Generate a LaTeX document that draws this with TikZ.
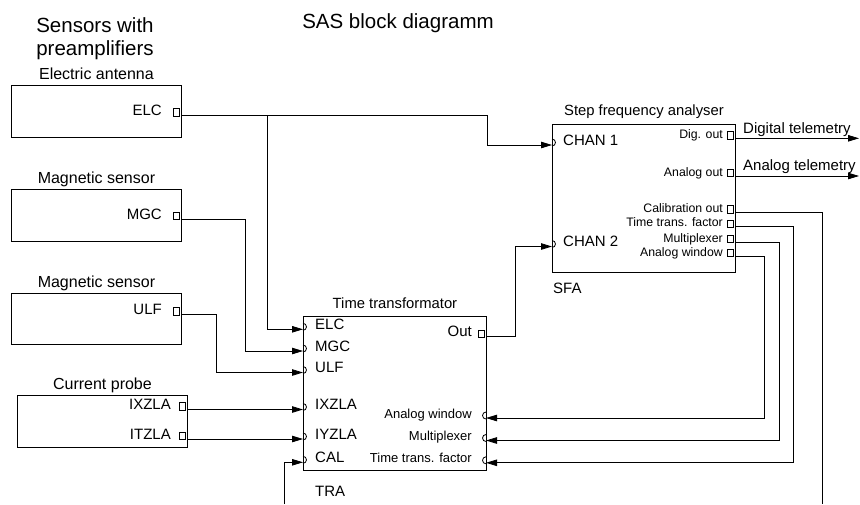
\documentclass[tikz,border=0pt]{standalone}
\usepackage{fontspec}
\setmainfont{Liberation Sans}
\usetikzlibrary{arrows.meta,positioning}

\begin{document}
\begin{tikzpicture}[x=1pt,y=-1pt,
    blk/.style={draw,line width=0.9pt,anchor=north west,inner sep=0pt},
    head/.style={font=\fontsize{20.5}{23.5}\selectfont,align=center,inner sep=0pt},
    title/.style={font=\fontsize{16}{19}\selectfont,inner sep=0pt,text depth=0pt},
    ttl/.style={font=\fontsize{14.8}{17}\selectfont,inner sep=0pt,text depth=0pt},
    lbl/.style={font=\fontsize{15}{18}\selectfont,inner sep=0pt},
    trs/.style={font=\fontsize{13}{15}\selectfont,inner sep=0pt},
    small/.style={font=\fontsize{12.3}{14}\selectfont,inner sep=0pt},
    oport/.style={draw,line width=0.7pt,minimum width=6.5pt,minimum height=7.5pt,
                  inner sep=0pt,anchor=south east,xshift=-1pt,yshift=-1pt},
    wire/.style={line width=0.8pt},
    feed/.style={wire,-{Triangle[length=11pt,width=6.5pt]}}]
  \useasboundingbox (0,0) rectangle (860,504);

  % headings
  \node[head,anchor=north] (hd-sens) at (95,17) {Sensors with\\preamplifiers};
  \node[head,anchor=base] (hd-sas) at (398,28) {SAS block diagramm};

  % sensor boxes
  \node[blk,minimum width=170pt,minimum height=52pt] (ant) at (11,85) {};
  \node[blk,minimum width=170pt,minimum height=52pt] (mgs) at (11,189) {};
  \node[blk,minimum width=170pt,minimum height=51pt] (ulfs) at (11,293) {};
  \node[blk,minimum width=170pt,minimum height=52pt] (cpr) at (17,395) {};
  \node[title,above=5.5pt of ant] (ant-t) {Electric antenna};
  \node[title,above=5.5pt of mgs] (mgs-t) {Magnetic sensor};
  \node[title,above=5.5pt of ulfs] (ulfs-t) {Magnetic sensor};
  \node[title,above=5pt of cpr] (cpr-t) {Current probe};

  % processing boxes
  \node[blk,minimum width=183pt,minimum height=154pt] (tra) at (303,316) {};
  \node[blk,minimum width=183pt,minimum height=148pt] (sfa) at (552,124) {};
  \node[ttl,above=7.5pt of tra] (tra-t) {Time transformator};
  \node[ttl,above=8pt of sfa] (sfa-t) {Step frequency analyser};
  \node[lbl,anchor=north west] (tra-n) at ([xshift=12pt,yshift=-15pt]tra.south west) {TRA};
  \node[lbl,anchor=north west] (sfa-n) at ([xshift=1pt,yshift=-10pt]sfa.south west) {SFA};

  % ports
  \coordinate (ant-elc) at (181,115.5);
  \coordinate (mgs-mgc) at (181,219);
  \coordinate (ulfs-ulf) at (181,314.3);
  \coordinate (cpr-ixz) at (187,409.5);
  \coordinate (cpr-itz) at (187,439);
  \coordinate (tra-elc) at (303,329.3);
  \coordinate (tra-mgc) at (303,351);
  \coordinate (tra-ulf) at (303,372.5);
  \coordinate (tra-ixz) at (303,409.5);
  \coordinate (tra-iyz) at (303,439);
  \coordinate (tra-cal) at (303,462.3);
  \coordinate (tra-out) at (486,336.7);
  \coordinate (tra-aw) at (486,418);
  \coordinate (tra-mux) at (486,440.5);
  \coordinate (tra-ttf) at (486,462.8);
  \coordinate (sfa-c1) at (552,145);
  \coordinate (sfa-c2) at (552,246.5);
  \coordinate (sfa-dig) at (735,138.3);
  \coordinate (sfa-ana) at (735,176);
  \coordinate (sfa-cal) at (735,212.3);
  \coordinate (sfa-ttf) at (735,226.7);
  \coordinate (sfa-mux) at (735,242);
  \coordinate (sfa-aw) at (735,256);

  \foreach \p in {ant-elc,mgs-mgc,ulfs-ulf,cpr-ixz,cpr-itz,tra-out,
                  sfa-dig,sfa-ana,sfa-cal,sfa-ttf,sfa-mux,sfa-aw}
    \node[oport] (\p-sq) at (\p) {};
  \foreach \p in {tra-elc,tra-mgc,tra-ulf,tra-ixz,tra-iyz,tra-cal,sfa-c1,sfa-c2}
    \draw[wire] ([yshift=6pt]\p) arc[start angle=90,end angle=-90,radius=3.5pt];
  \foreach \p in {tra-aw,tra-mux,tra-ttf}
    \draw[wire] ([yshift=6pt]\p) arc[start angle=90,end angle=270,radius=3.5pt];

  % port labels
  \node[lbl,left=19pt of ant-elc,anchor=base east] (ant-elc-l) {ELC};
  \node[lbl,left=19pt of mgs-mgc,anchor=base east] (mgs-mgc-l) {MGC};
  \node[lbl,left=19pt of ulfs-ulf,anchor=base east] (ulfs-ulf-l) {ULF};
  \node[lbl,left=16pt of cpr-ixz,anchor=base east] (cpr-ixz-l) {IXZLA};
  \node[lbl,left=16pt of cpr-itz,anchor=base east] (cpr-itz-l) {ITZLA};
  \node[lbl,right=12pt of tra-elc,anchor=base west] (tra-elc-l) {ELC};
  \node[lbl,right=12pt of tra-mgc,anchor=base west] (tra-mgc-l) {MGC};
  \node[lbl,right=12pt of tra-ulf,anchor=base west] (tra-ulf-l) {ULF};
  \node[lbl,right=12pt of tra-ixz,anchor=base west] (tra-ixz-l) {IXZLA};
  \node[lbl,right=12pt of tra-iyz,anchor=base west] (tra-iyz-l) {IYZLA};
  \node[lbl,right=12pt of tra-cal,anchor=base west] (tra-cal-l) {CAL};
  \node[lbl,left=14pt of tra-out,anchor=base east] (tra-out-l) {Out};
  \node[trs,left=14pt of tra-aw,anchor=base east] (tra-aw-l) {Analog window};
  \node[trs,left=14pt of tra-mux,anchor=base east] (tra-mux-l) {Multiplexer};
  \node[trs,left=14pt of tra-ttf,anchor=base east] (tra-ttf-l) {Time trans. factor};
  \node[lbl,right=11pt of sfa-c1,anchor=base west] (sfa-c1-l) {CHAN 1};
  \node[lbl,right=11pt of sfa-c2,anchor=base west] (sfa-c2-l) {CHAN 2};
  \node[small,left=12pt of sfa-dig,anchor=base east] (sfa-dig-l) {Dig. out};
  \node[small,left=12pt of sfa-ana,anchor=base east] (sfa-ana-l) {Analog out};
  \node[small,left=12pt of sfa-cal,anchor=base east] (sfa-cal-l) {Calibration out};
  \node[small,left=12pt of sfa-ttf,anchor=base east] (sfa-ttf-l) {Time trans. factor};
  \node[small,left=12pt of sfa-mux,anchor=base east] (sfa-mux-l) {Multiplexer};
  \node[small,left=12pt of sfa-aw,anchor=base east] (sfa-aw-l) {Analog window};

  % free ends
  \coordinate (elc-br) at (267,115.5);
  \coordinate (cal-src) at (284,504);
  \coordinate (cal-dst) at (822,504);
  \coordinate (dig-end) at (859,138.3);
  \coordinate (ana-end) at (859,176);
  \node[lbl,anchor=base west] (dig-l) at ([xshift=8pt,yshift=5pt]sfa-dig) {Digital telemetry};
  \node[lbl,anchor=base west] (ana-l) at ([xshift=8pt,yshift=6pt]sfa-ana) {Analog telemetry};

  % connections
  \draw[feed] (ant-elc) -| ([xshift=-65pt]sfa-c1) -- (sfa-c1);
  \draw[feed] (elc-br) |- (tra-elc);
  \draw[feed] (mgs-mgc) -| ([xshift=-58pt]tra-mgc) -- (tra-mgc);
  \draw[feed] (ulfs-ulf) -| ([xshift=-87pt]tra-ulf) -- (tra-ulf);
  \draw[feed] (cpr-ixz) -- (tra-ixz);
  \draw[feed] (cpr-itz) -- (tra-iyz);
  \draw[feed] (cal-src) |- (tra-cal);
  \draw[feed] (tra-out) -| ([xshift=-37pt]sfa-c2) -- (sfa-c2);
  \draw[feed] (sfa-aw) -| ([xshift=278pt]tra-aw) -- (tra-aw);
  \draw[feed] (sfa-mux) -| ([xshift=293pt]tra-mux) -- (tra-mux);
  \draw[feed] (sfa-ttf) -| ([xshift=307pt]tra-ttf) -- (tra-ttf);
  \draw[wire] (sfa-cal) -| (cal-dst);
  \draw[feed] (sfa-dig) -- (dig-end);
  \draw[feed] (sfa-ana) -- (ana-end);
\end{tikzpicture}
\end{document}
